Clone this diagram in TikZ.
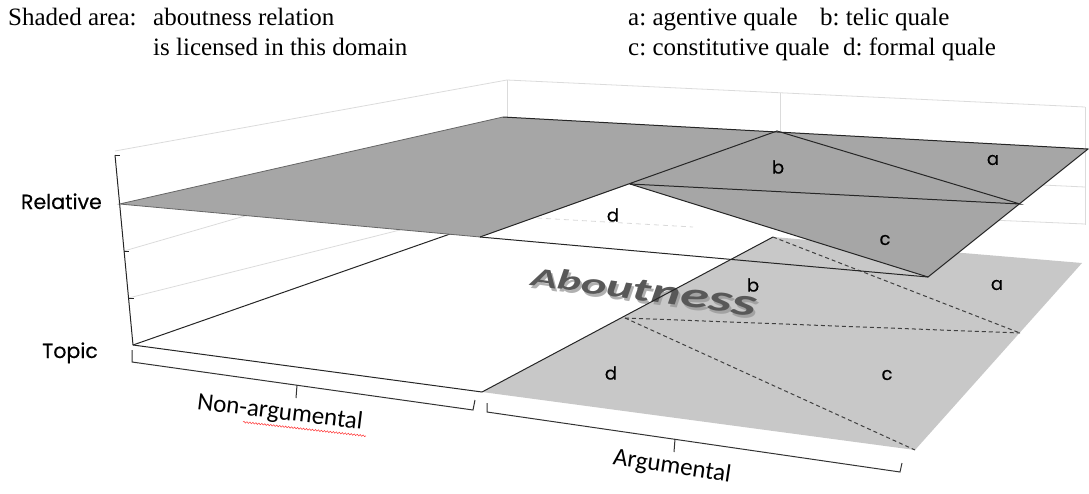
\documentclass[tikz,border=0pt]{standalone}
\usepackage{fontspec}
\setmainfont{Liberation Serif}
\newfontfamily\labfont[FakeBold=0.4]{Poppins}
\newfontfamily\calfont{Carlito}
\usetikzlibrary{decorations.pathmorphing}
\definecolor{darkplane}{RGB}{166,166,166}
\definecolor{lightplane}{RGB}{200,200,200}
\definecolor{aboutgray}{RGB}{88,88,88}
\definecolor{aboutshadow}{RGB}{150,150,150}
\frenchspacing
\newcommand{\abfont}[1]{\calfont\bfseries\itshape\fontsize{#1}{#1}\selectfont}
\begin{document}
\begin{tikzpicture}[x=1pt,y=-1pt,
  gridline/.style={draw=black!14, line width=0.8pt},
  edgeline/.style={draw=black!85, line width=1pt},
  dashline/.style={draw=black!75, line width=1pt, dash pattern=on 4pt off 3pt},
  bracket/.style={draw=black!80, line width=1pt},
  lab/.style={font=\labfont\fontsize{18}{18}\selectfont, inner sep=0pt},
  axlab/.style={font=\labfont\fontsize{20.5}{20}\selectfont, inner sep=0pt, anchor=base east},
  hdr/.style={font=\fontsize{25}{30}\selectfont, anchor=base west, inner sep=0pt},
  catlab/.style={font=\calfont\fontsize{25}{25}\selectfont, inner sep=0pt},
  abl/.style={inner sep=0pt, outer sep=0pt, rotate=-8, xscale=1.61, anchor=base west, text=aboutgray},
  abs/.style={abl, text=aboutshadow, opacity=0.75}]
\useasboundingbox (0,0) rectangle (1089,493);

% header
\node[hdr] (h1) at (8,25) {Shaded area:};
\node[hdr] (h2) at (153,25) {aboutness relation};
\node[hdr] (h3) at (153,55) {is licensed in this domain};
\node[hdr] (qa) at (628,25) {a: agentive quale};
\node[hdr] (qb) at (820,25) {b: telic quale};
\node[hdr] (qc) at (628,55) {c: constitutive quale};
\node[hdr] (qd) at (843,55) {d: formal quale};

% coordinates
\coordinate (axT) at (115,155);
\coordinate (axR) at (119.5,204);
\coordinate (axB) at (133,345);
\coordinate (P1) at (503,117);
\coordinate (P2) at (777,131);
\coordinate (P3) at (1088,149);
\coordinate (P4) at (1020,204);
\coordinate (P5) at (928,277);
\coordinate (P6) at (630,184);
\coordinate (P7) at (480,237);
\coordinate (L1) at (773,237);
\coordinate (L2) at (1082,263);
\coordinate (L3) at (1020,333);
\coordinate (L4) at (915,450);
\coordinate (L5) at (482,392);
\coordinate (L6) at (625,318);
\coordinate (BL) at (507,80);
\coordinate (BR) at (1085,107);

% faint walls / gridlines
\draw[gridline] (115,151) -- (BL) -- (BR);
\draw[gridline] (BL) -- (507,118);
\draw[gridline] (780,92.5) -- (780,131);
\draw[gridline] (BR) -- (1085,225);
\draw[gridline] (1000,183) -- (1085,187);
\draw[gridline] (990,220) -- (1085,224);
\draw[gridline] (124,251) -- (262,211);
\draw[gridline] (128.5,298) -- (420,225);
\draw[draw=black!15, line width=0.8pt, dash pattern=on 5pt off 4pt] (537,218) -- (693,227);

% vertical axis and ticks
\draw[edgeline] (axT) -- (axB);
\draw[edgeline] (axT) -- (120,155);
\draw[edgeline] (124,251) -- (129,251);
\draw[edgeline] (128.5,298) -- (133.5,298);

% floor edges
\draw[edgeline] (axB) -- (L5);
\draw[edgeline] (axB) -- (470,227);

% light plane
\fill[lightplane] (L1) -- (L2) -- (L4) -- (L5) -- cycle;

% Aboutness (letters growing to the right, with a soft shadow)
\node[abs, font=\abfont{27}]   (s1) at (532,288) {A};
\node[abs, font=\abfont{28.5}] (s2) at (s1.base east) {b};
\node[abs, font=\abfont{30}]   (s3) at (s2.base east) {o};
\node[abs, font=\abfont{31.5}] (s4) at (s3.base east) {u};
\node[abs, font=\abfont{33}]   (s5) at (s4.base east) {t};
\node[abs, font=\abfont{34.5}] (s6) at (s5.base east) {n};
\node[abs, font=\abfont{36}]   (s7) at (s6.base east) {e};
\node[abs, font=\abfont{37.5}] (s8) at (s7.base east) {s};
\node[abs, font=\abfont{39}]   (s9) at (s8.base east) {s};
\node[abl, font=\abfont{27}]   (a1) at (530,285) {A};
\node[abl, font=\abfont{28.5}] (a2) at (a1.base east) {b};
\node[abl, font=\abfont{30}]   (a3) at (a2.base east) {o};
\node[abl, font=\abfont{31.5}] (a4) at (a3.base east) {u};
\node[abl, font=\abfont{33}]   (a5) at (a4.base east) {t};
\node[abl, font=\abfont{34.5}] (a6) at (a5.base east) {n};
\node[abl, font=\abfont{36}]   (a7) at (a6.base east) {e};
\node[abl, font=\abfont{37.5}] (a8) at (a7.base east) {s};
\node[abl, font=\abfont{39}]   (a9) at (a8.base east) {s};

\draw[dashline] (L1) -- (L3);
\draw[dashline] (L6) -- (L3);
\draw[dashline] (L6) -- (L4);
\draw[edgeline] (L5) -- (L1);

% dark plane
\fill[darkplane] (axR) -- (P1) -- (P3) -- (P5) -- (P6) -- (P7) -- cycle;
\draw[draw=black!60, line width=0.8pt] (P7) -- (axR) -- (P1);
\draw[edgeline] (P1) -- (P3) -- (P5) -- (P6);
\draw[edgeline] (P7) -- (P2) -- (P4) -- (P6);
\draw[edgeline] (P7) -- (P5);

% region labels
\node[lab] (ub) at (778,167) {b};
\node[lab] (ua) at (993,160) {a};
\node[lab] (uc) at (885,240) {c};
\node[lab] (ud) at (613,215) {d};
\node[lab] (lb) at (753,285) {b};
\node[lab] (la) at (997,285) {a};
\node[lab] (ld) at (611,373) {d};
\node[lab] (lc) at (887,375) {c};

% axis labels
\node[axlab] (rel) at (102,209) {Relative};
\node[axlab] (top) at (98,358) {Topic};

% brackets
\draw[bracket] (132,350) -- (132,362) -- (473,410) -- (475,400);
\draw[bracket] (297,385) -- (296,398);
\draw[bracket] (487,403) -- (487,412) -- (900,472) -- (902,463);
\draw[bracket] (675,439) -- (674,452);

\node[catlab, rotate=-7] (nonarg) at (280,413) {Non-argumental};
\node[catlab, rotate=-8.5] (arg) at (672,467) {Argumental};
\draw[red!80, line width=0.5pt, decorate, decoration={snake, amplitude=0.8pt, segment length=3pt}]
  (243,422) -- (366,436);
\end{tikzpicture}
\end{document}
